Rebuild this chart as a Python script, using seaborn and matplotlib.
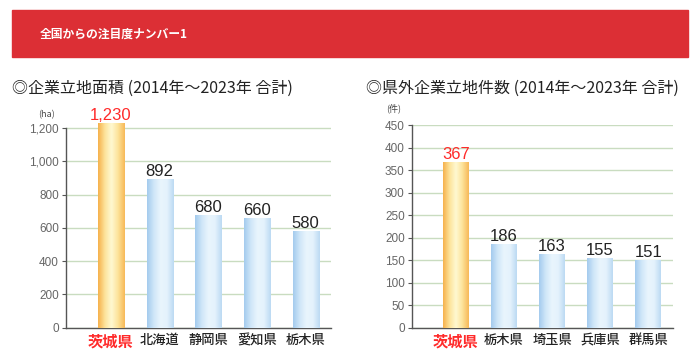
import numpy as np
import pandas as pd
import matplotlib
matplotlib.use("Agg")
import matplotlib.pyplot as plt
import seaborn as sns
from matplotlib.colors import LinearSegmentedColormap
from matplotlib.patches import Rectangle

# ----------------------------------
# Daten
# ----------------------------------
area_prefs = ["茨城県", "北海道", "静岡県", "愛知県", "栃木県"]
area_values = [1230, 892, 680, 660, 580]
area_labels = ["1,230", "892", "680", "660", "580"]

count_prefs = ["茨城県", "栃木県", "埼玉県", "兵庫県", "群馬県"]
count_values = [367, 186, 163, 155, 151]
count_labels = ["367", "186", "163", "155", "151"]

area_ticks = [0, 200, 400, 600, 800, 1000, 1200]
area_ticklabels = ["0", "200", "400", "600", "800", "1,000", "1,200"]
count_ticks = [0, 50, 100, 150, 200, 250, 300, 350, 400, 450]

banner_title = "全国からの注目度ナンバー1"
title_area = "◎企業立地面積 (2014年～2023年 合計)"
title_count = "◎県外企業立地件数 (2014年～2023年 合計)"

# ----------------------------------
# Stil
# ----------------------------------
sns.set_style("white")
plt.rcParams["font.family"] = ["Noto Sans CJK JP", "DejaVu Sans"]

RED = "#dc2f35"
HL = "#ff2a2a"
GRID = "#c9dcc0"
TICK = "#666666"

orange_cmap = LinearSegmentedColormap.from_list(
    "orange", ["#f6b14c", "#fde39a", "#fff9d2", "#fde39a", "#f7b958"])
blue_cmap = LinearSegmentedColormap.from_list(
    "blue", ["#a4cbee", "#cfe6f8", "#e9f5fd", "#e4f2fc", "#bcdaf3"])

W, H = 700, 358
fig = plt.figure(figsize=(W / 100, H / 100), dpi=100)


def px_axes(x0, y_top, x1, y_bot):
    return fig.add_axes([x0 / W, 1 - y_bot / H, (x1 - x0) / W, (y_bot - y_top) / H])


# Banner
fig.patches.append(Rectangle((12 / W, 1 - 57 / H), 676 / W, 47 / H,
                             transform=fig.transFigure, color=RED, zorder=0))
fig.text(40 / W, 1 - 34 / H, banner_title, color="white", fontsize=8.5,
         fontweight="bold", va="center", ha="left")

fig.text(12 / W, 1 - 88 / H, title_area, fontsize=11.5, va="center", ha="left", color="#222222")
fig.text(366 / W, 1 - 88 / H, title_count, fontsize=11.5, va="center", ha="left", color="#222222")


def draw_chart(ax, prefs, values, labels, ticks, ticklabels, ymax, spine_top, unit, unit_xy, xlim):
    df = pd.DataFrame({"pref": prefs, "value": values})
    sns.barplot(data=df, x="pref", y="value", ax=ax, width=0.54,
                color="#cfe6f8", edgecolor="none", zorder=3)
    grad = np.linspace(0, 1, 64).reshape(1, -1)
    for i, patch in enumerate(ax.patches):
        x0 = patch.get_x()
        x1 = x0 + patch.get_width()
        h = patch.get_height()
        cmap = orange_cmap if i == 0 else blue_cmap
        im = ax.imshow(grad, cmap=cmap, extent=[x0, x1, 0, h], aspect="auto",
                       zorder=3.5, interpolation="bicubic")
        im.set_clip_path(patch)
        ax.text(x0 + patch.get_width() / 2, h, labels[i], ha="center", va="bottom",
                fontsize=12, family=["Liberation Sans", "DejaVu Sans"],
                color=HL if i == 0 else "#222222", zorder=5)
    ax.set_xlim(*xlim)
    ax.set_ylim(0, ymax)
    ax.set_yticks(ticks)
    ax.set_yticklabels(ticklabels, family=["Liberation Sans", "DejaVu Sans"])
    ax.set_xlabel("")
    ax.set_ylabel("")
    ax.yaxis.grid(True, color=GRID, lw=1, zorder=0)
    ax.set_axisbelow(True)
    for s in ["top", "right"]:
        ax.spines[s].set_visible(False)
    ax.spines["left"].set_bounds(0, spine_top)
    ax.spines["left"].set_color("#555555")
    ax.spines["bottom"].set_color("#555555")
    ax.spines["left"].set_linewidth(1)
    ax.spines["bottom"].set_linewidth(1)
    ax.tick_params(axis="y", which="major", left=True, length=3, width=0.8,
                   color="#555555", labelsize=8.5, labelcolor=TICK, pad=2)
    ax.tick_params(axis="x", which="major", bottom=False, length=0, labelsize=9.5, pad=4)
    ax.set_xticks([xlim[1]], minor=True)
    ax.tick_params(axis="x", which="minor", direction="in", length=4, width=1, color="#555555")
    for i, lbl in enumerate(ax.get_xticklabels()):
        lbl.set_fontweight("medium")
        if i == 0:
            lbl.set_color(HL)
            lbl.set_fontsize(11)
            lbl.set_fontweight("bold")
        else:
            lbl.set_color("#222222")
    ax.text(unit_xy[0], unit_xy[1], unit, transform=fig.transFigure,
            fontsize=6.5, color="#444444", ha="left", va="center")


ax1 = px_axes(66, 121.3, 331, 327.7)
draw_chart(ax1, area_prefs, area_values, area_labels, area_ticks, area_ticklabels,
           1240, 1200, "(ha)", (38 / W, 1 - 115 / H), (-0.924, 4.52))

ax2 = px_axes(411.7, 125, 673, 327.7)
draw_chart(ax2, count_prefs, count_values, count_labels, count_ticks,
           [str(t) for t in count_ticks], 450, 450, "(件)", (386 / W, 1 - 108 / H), (-0.917, 4.515))

fig.savefig("out.png", dpi=100)
